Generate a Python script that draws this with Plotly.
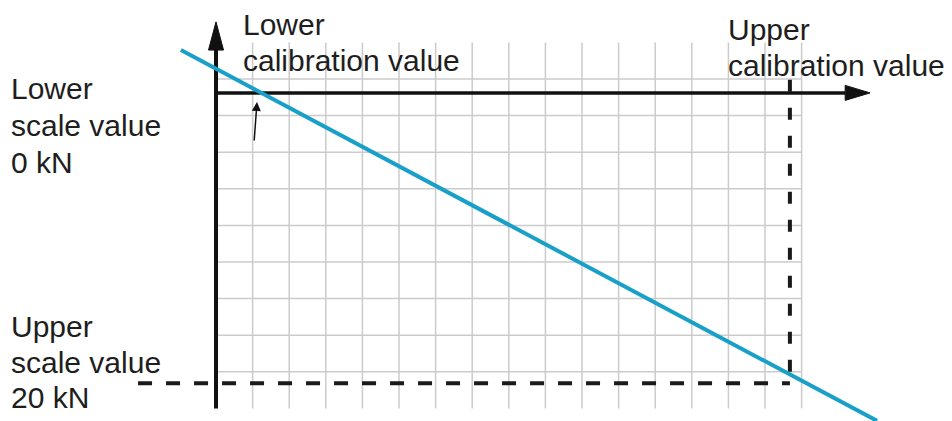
import plotly.graph_objects as go

# ---- data (grid units: 1 unit = one grid cell) ----
grid_cols = list(range(1, 17))      # vertical grid lines
grid_rows = list(range(1, 10))      # horizontal grid lines
grid_x_max = 16
grid_y_max = 10

# characteristic line (sensor output vs. force)
line_x = [-0.96, 18.06]
line_y = [9.79, -0.34]

lower_cal_x = 1.28     # lower calibration value
upper_cal_x = 15.68    # upper calibration value
zero_kN_y = 8.62       # lower scale value 0 kN (x-axis level)
twenty_kN_y = 0.69     # upper scale value 20 kN

dash_h_start_x = -2.13
dash_v_top_y = 8.98

x_axis_end = 17.19
x_axis_tip = 17.87
y_axis_end = 9.79
y_axis_tip = 10.56
head_half = 0.205

pointer_tip = (1.12, 8.37)
pointer_tail = (1.04, 7.28)

# label lines, left x, top y of first line, line spacing (pixels)
labels = [
    (["Lower", "calibration value"], 241, 6, 36),
    (["Upper", "calibration value"], 726, 11, 36),
    (["Lower", "scale value", "0 kN"], 9, 70, 37),
    (["Upper", "scale value", "20 kN"], 9, 308, 35.5),
]

W, H = 952, 421
x_range = [-5.902, 20.109]
y_range = [-0.344, 11.158]

grid_color = "#cbcbcb"
blue = "#19a0c8"
black = "#111111"

fig = go.Figure()

for c in grid_cols:
    fig.add_shape(type="line", x0=c, x1=c, y0=0, y1=grid_y_max,
                  line=dict(color=grid_color, width=1.5), layer="below")
for r in grid_rows:
    fig.add_shape(type="line", x0=0, x1=grid_x_max, y0=r, y1=r,
                  line=dict(color=grid_color, width=1.5), layer="below")

# axes
fig.add_shape(type="line", x0=0, x1=0, y0=0, y1=y_axis_end,
              line=dict(color=black, width=4), layer="below")
fig.add_shape(type="path",
              path=f"M {-head_half} {y_axis_end} L {head_half} {y_axis_end} L 0 {y_axis_tip} Z",
              fillcolor=black, line=dict(color=black, width=1), layer="below")
fig.add_shape(type="line", x0=0, x1=x_axis_end, y0=zero_kN_y, y1=zero_kN_y,
              line=dict(color=black, width=3.5), layer="below")
fig.add_shape(type="path",
              path=f"M {x_axis_end} {zero_kN_y - head_half} L {x_axis_end} {zero_kN_y + head_half} L {x_axis_tip} {zero_kN_y} Z",
              fillcolor=black, line=dict(color=black, width=1), layer="below")

# dashed guide lines
fig.add_trace(go.Scatter(x=[dash_h_start_x, upper_cal_x], y=[twenty_kN_y, twenty_kN_y],
                         mode="lines", line=dict(color="#1a1a1a", width=4, dash="14px,14px"),
                         hoverinfo="skip"))
fig.add_trace(go.Scatter(x=[upper_cal_x, upper_cal_x], y=[dash_v_top_y, twenty_kN_y],
                         mode="lines", line=dict(color="#1a1a1a", width=4, dash="12px,16px"),
                         hoverinfo="skip"))

# characteristic line
fig.add_trace(go.Scatter(x=line_x, y=line_y, mode="lines",
                         line=dict(color=blue, width=4), hoverinfo="skip"))

# small pointer arrow
fig.add_annotation(x=pointer_tip[0], y=pointer_tip[1], ax=pointer_tail[0], ay=pointer_tail[1],
                   xref="x", yref="y", axref="x", ayref="y", text="", showarrow=True,
                   arrowhead=2, arrowsize=1.2, arrowwidth=1.5, arrowcolor=black)

for lines, px, py0, step in labels:
    for k, text in enumerate(lines):
        py = py0 + step * k
        fig.add_annotation(text=text, x=px / W, y=1 - py / H, xref="paper", yref="paper",
                           xanchor="left", yanchor="top", align="left", showarrow=False,
                           font=dict(family="Liberation Sans, Arial, sans-serif", size=30,
                                     color="#1e1e1e"))

fig.update_layout(
    width=W, height=H, margin=dict(l=0, r=0, t=0, b=0),
    paper_bgcolor="white", plot_bgcolor="white", showlegend=False,
    xaxis=dict(range=x_range, visible=False, fixedrange=True),
    yaxis=dict(range=y_range, visible=False, fixedrange=True),
)

fig.write_html("out.html", config={"displayModeBar": False},
               post_script="document.body.style.margin='0px';document.body.style.overflow='hidden';")
